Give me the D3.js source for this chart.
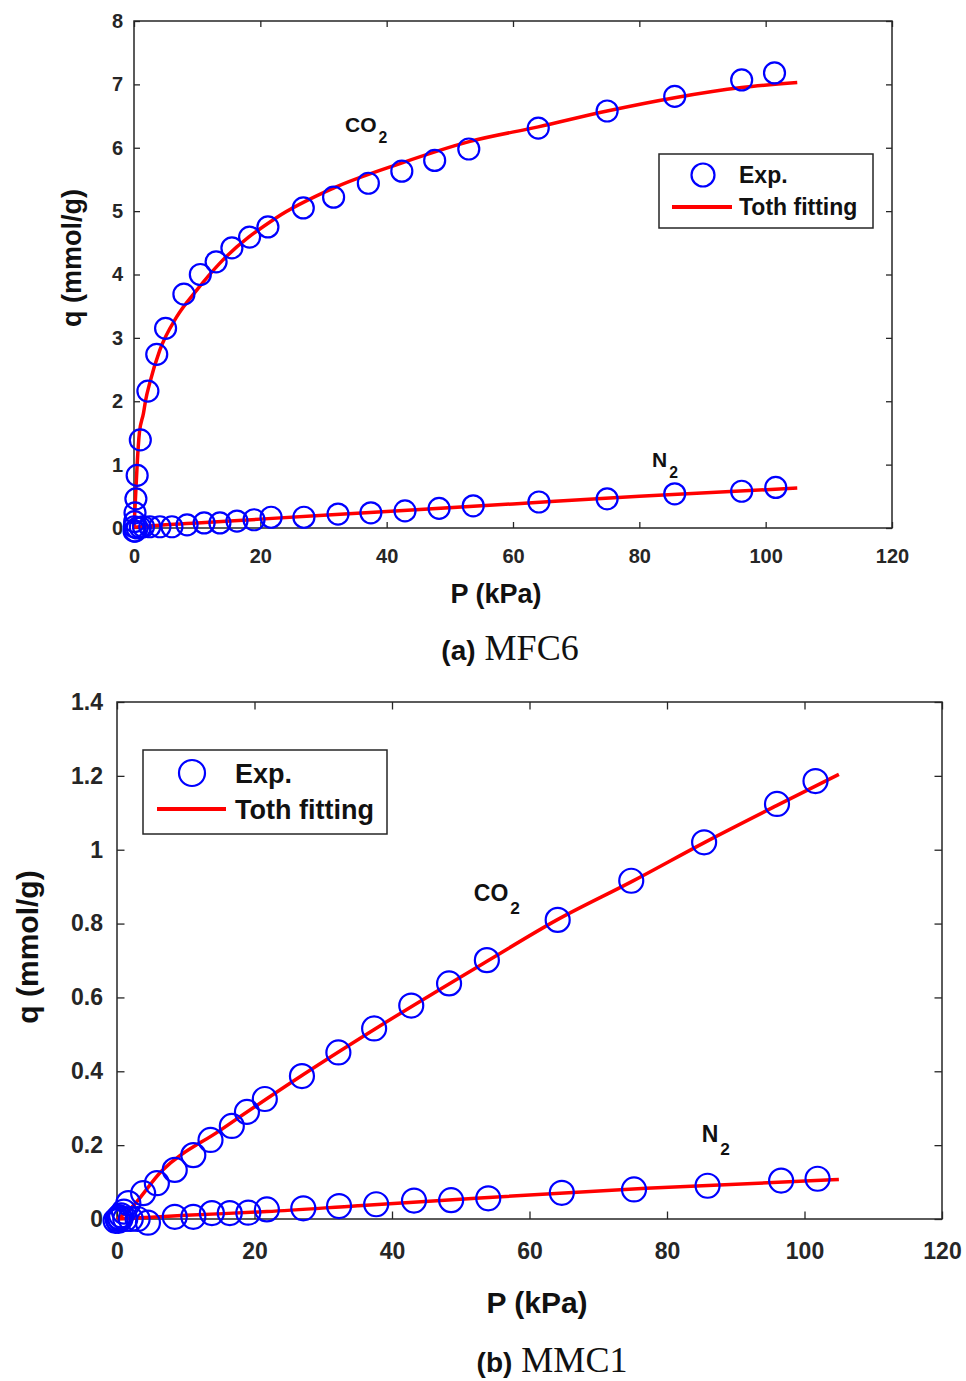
<!DOCTYPE html>
<html>
<head>
<meta charset="utf-8">
<script src="https://cdn.jsdelivr.net/npm/d3@7"></script>
<style>
  body { margin: 0; background: #fff; }
  svg { display: block; }
</style>
</head>
<body>
<div id="chart"></div>
<script>
// data: [P (kPa), q (mmol/g)]
const xTicks = [0, 20, 40, 60, 80, 100, 120];
const yTicksA = [0, 1, 2, 3, 4, 5, 6, 7, 8];
const yTicksB = [0, 0.2, 0.4, 0.6, 0.8, 1, 1.2, 1.4];

// (a) MFC6
const mfc6Co2Exp = [
  [0.02, -0.05], [0.05, 0.02], [0.1, 0.1], [0.16, 0.24], [0.3, 0.46], [0.5, 0.83],
  [1.0, 1.39], [2.2, 2.16], [3.6, 2.74], [5.0, 3.15], [7.9, 3.69], [10.5, 4.0],
  [13.0, 4.2], [15.5, 4.42], [18.3, 4.59], [21.2, 4.75], [26.8, 5.05], [31.6, 5.22],
  [37.1, 5.44], [42.4, 5.63], [47.6, 5.8], [53.0, 5.98], [64.0, 6.31], [74.9, 6.58],
  [85.6, 6.81], [96.2, 7.07], [101.4, 7.18]
];
const mfc6N2Exp = [
  [0.2, -0.05], [0.5, 0.0], [1.0, 0.01], [1.5, 0.02], [2.5, 0.02], [4.1, 0.02],
  [6.0, 0.02], [8.4, 0.05], [11.1, 0.08], [13.6, 0.08], [16.3, 0.11], [19.0, 0.13],
  [21.7, 0.17], [26.9, 0.17], [32.3, 0.22], [37.5, 0.24], [42.9, 0.27], [48.3, 0.31],
  [53.7, 0.35], [64.1, 0.41], [74.9, 0.46], [85.6, 0.54], [96.2, 0.58], [101.6, 0.64]
];
const mfc6Co2Fit = [
  [0, 0], [0.2, 0.4], [0.5, 1.0], [0.85, 1.5], [1.5, 1.81], [1.85, 2.02], [2.5, 2.29],
  [4.1, 2.81], [6.75, 3.33], [9.9, 3.75], [13.6, 4.18], [22.6, 4.9], [31.5, 5.36],
  [42.1, 5.75], [53.2, 6.1], [64, 6.33], [74.9, 6.58], [85.6, 6.79], [96.2, 6.95], [105, 7.03]
];
const mfc6N2Fit = [
  [0, 0.01], [5, 0.05], [10, 0.08], [20, 0.14], [40, 0.26], [60, 0.38], [80, 0.5], [105, 0.63]
];

// (b) MMC1
const mmc1Co2Exp = [
  [-0.2, -0.005], [0.1, 0.0], [0.3, 0.005], [0.6, 0.01], [1.0, 0.02], [1.65, 0.043],
  [3.8, 0.07], [5.8, 0.097], [8.4, 0.133], [11.1, 0.173], [13.6, 0.214], [16.7, 0.252],
  [18.9, 0.29], [21.5, 0.325], [26.9, 0.387], [32.2, 0.451], [37.4, 0.516], [42.8, 0.578],
  [48.3, 0.638], [53.8, 0.701], [64.1, 0.81], [74.8, 0.916], [85.4, 1.02], [96.0, 1.124],
  [101.6, 1.186]
];
const mmc1N2Exp = [
  [0.2, -0.005], [0.5, 0.0], [1.2, 0.0], [2.0, 0.0], [3.0, 0.0], [4.5, -0.01],
  [8.4, 0.006], [11.1, 0.006], [13.8, 0.016], [16.4, 0.016], [19.1, 0.017], [21.8, 0.026],
  [27.1, 0.029], [32.3, 0.035], [37.7, 0.04], [43.2, 0.05], [48.6, 0.051], [54.0, 0.056],
  [64.7, 0.071], [75.2, 0.08], [85.9, 0.09], [96.6, 0.104], [101.9, 0.109]
];
const mmc1Co2Fit = [
  [0, 0], [1.5, 0.02], [6.5, 0.13], [15, 0.24], [27, 0.39], [38, 0.52], [54, 0.70],
  [64, 0.81], [75, 0.915], [85.5, 1.02], [96, 1.12], [105, 1.204]
];
const mmc1N2Fit = [
  [0, 0], [5, 0.005], [10, 0.01], [21.8, 0.02], [35, 0.036], [52.8, 0.057], [77, 0.083], [105, 0.107]
];

const legendLabels = ["Exp.", "Toth fitting"];

// config
const width = 966;
const height = 1381;
const axisColor = "#262626";
const sans = "'Liberation Sans', Arial, sans-serif";
const serif = "'Liberation Serif', 'Times New Roman', serif";

const svg = d3.select("#chart")
  .append("svg")
  .attr("width", width)
  .attr("height", height)
  .style("background-color", "white");

const drawPanel = (p) => {
  const x = d3.scaleLinear().domain([0, 120]).range([p.left, p.right]);
  const y = d3.scaleLinear().domain(p.yDomain).range([p.bottom, p.top]);
  const g = svg.append("g");

  // ticks inward on all four sides, labels on bottom/left only
  const axB = g.append("g").attr("transform", `translate(0,${p.bottom})`)
    .call(d3.axisBottom(x).tickValues(xTicks).tickSize(-p.tick).tickPadding(p.xPad));
  const axL = g.append("g").attr("transform", `translate(${p.left},0)`)
    .call(d3.axisLeft(y).tickValues(p.yTicks).tickSize(-p.tick).tickPadding(p.yPad)
      .tickFormat(d3.format("~g")));
  g.append("g").attr("transform", `translate(0,${p.top})`)
    .call(d3.axisTop(x).tickValues(xTicks).tickSize(-p.tick).tickFormat(""));
  g.append("g").attr("transform", `translate(${p.right},0)`)
    .call(d3.axisRight(y).tickValues(p.yTicks).tickSize(-p.tick).tickFormat(""));
  g.selectAll(".domain").remove();
  g.selectAll(".tick line").attr("stroke", axisColor).attr("stroke-width", 1.3);
  [axB, axL].forEach(a => a.selectAll("text")
    .attr("fill", axisColor)
    .style("font-family", sans)
    .style("font-weight", "bold")
    .style("font-size", p.tickFont + "px"));

  g.append("rect")
    .attr("x", p.left).attr("y", p.top)
    .attr("width", p.right - p.left).attr("height", p.bottom - p.top)
    .attr("fill", "none").attr("stroke", axisColor).attr("stroke-width", 1.5);

  // fitted curves
  const line = d3.line().x(d => x(d[0])).y(d => y(d[1])).curve(d3.curveMonotoneX);
  [p.co2Fit, p.n2Fit].forEach(fit => {
    g.append("path").datum(fit)
      .attr("d", line)
      .attr("fill", "none")
      .attr("stroke", "#ff0000")
      .attr("stroke-width", 3.5)
      .attr("stroke-linejoin", "round");
  });

  // experimental points
  g.append("g").selectAll("circle")
    .data(p.co2Exp.concat(p.n2Exp))
    .enter().append("circle")
    .attr("cx", d => x(d[0]))
    .attr("cy", d => y(d[1]))
    .attr("r", p.r)
    .attr("fill", "none")
    .attr("stroke", "#0000ff")
    .attr("stroke-width", 2.2);

  // gas labels
  p.gasLabels.forEach(l => {
    const t = g.append("text")
      .attr("x", x(l.at[0])).attr("y", y(l.at[1]))
      .attr("fill", "#111")
      .style("font-family", sans).style("font-weight", "bold")
      .style("font-size", p.gasFont + "px");
    t.append("tspan").text(l.name);
    t.append("tspan").text("2")
      .attr("dy", p.subDy)
      .attr("dx", 2)
      .style("font-size", (p.gasFont * 0.75) + "px");
  });

  // axis titles
  g.append("text")
    .attr("x", p.xLabel[0]).attr("y", p.xLabel[1])
    .attr("text-anchor", "middle")
    .attr("fill", "#111")
    .style("font-family", sans).style("font-weight", "bold")
    .style("font-size", p.labelFont + "px")
    .text("P (kPa)");
  g.append("text")
    .attr("transform", `translate(${p.yLabel[0]},${p.yLabel[1]}) rotate(-90)`)
    .attr("text-anchor", "middle")
    .attr("fill", "#111")
    .style("font-family", sans).style("font-weight", "bold")
    .style("font-size", p.labelFont + "px")
    .text("q (mmol/g)");

  // legend
  const lg = p.legend;
  g.append("rect")
    .attr("x", lg.x).attr("y", lg.y).attr("width", lg.w).attr("height", lg.h)
    .attr("fill", "white").attr("stroke", axisColor).attr("stroke-width", 1.5);
  g.append("circle")
    .attr("cx", lg.symX).attr("cy", lg.row1)
    .attr("r", p.r + 1)
    .attr("fill", "none").attr("stroke", "#0000ff").attr("stroke-width", 2.2);
  g.append("line")
    .attr("x1", lg.lineX1).attr("x2", lg.lineX2)
    .attr("y1", lg.row2).attr("y2", lg.row2)
    .attr("stroke", "#ff0000").attr("stroke-width", 4);
  legendLabels.forEach((name, i) => {
    g.append("text")
      .attr("x", lg.textX)
      .attr("y", (i === 0 ? lg.row1 : lg.row2) + lg.font * 0.36)
      .attr("fill", "#111")
      .style("font-family", sans).style("font-weight", "bold")
      .style("font-size", lg.font + "px")
      .text(name);
  });

  // caption
  const cap = g.append("text")
    .attr("x", p.caption[0]).attr("y", p.caption[1])
    .attr("text-anchor", "middle")
    .attr("fill", "#111");
  cap.append("tspan").text(p.captionTag)
    .style("font-family", sans).style("font-weight", "bold").style("font-size", "28px");
  cap.append("tspan").text(" " + p.captionName)
    .style("font-family", serif).style("font-size", "36px");
};

drawPanel({
  left: 134, right: 892, top: 21, bottom: 528,
  yDomain: [0, 8], yTicks: yTicksA,
  tick: 6, xPad: 21, yPad: 11, tickFont: 20, r: 10.5,
  co2Exp: mfc6Co2Exp, n2Exp: mfc6N2Exp, co2Fit: mfc6Co2Fit, n2Fit: mfc6N2Fit,
  gasFont: 21, subDy: 11,
  gasLabels: [{ name: "CO", at: [33.4, 6.25] }, { name: "N", at: [82, 0.96] }],
  labelFont: 27, xLabel: [496, 603], yLabel: [81, 258],
  legend: { x: 659, y: 154, w: 214, h: 74, symX: 703, row1: 175, row2: 207,
            lineX1: 672, lineX2: 732, textX: 739, font: 23 },
  caption: [510, 660], captionTag: "(a)", captionName: "MFC6"
});

drawPanel({
  left: 117, right: 942, top: 702, bottom: 1219,
  yDomain: [0, 1.4], yTicks: yTicksB,
  tick: 7.5, xPad: 24, yPad: 14, tickFont: 23, r: 12,
  co2Exp: mmc1Co2Exp, n2Exp: mmc1N2Exp, co2Fit: mmc1Co2Fit, n2Fit: mmc1N2Fit,
  gasFont: 23, subDy: 13,
  gasLabels: [{ name: "CO", at: [51.9, 0.862] }, { name: "N", at: [85.05, 0.209] }],
  labelFont: 30, xLabel: [537, 1313], yLabel: [38, 947],
  legend: { x: 143, y: 750, w: 244, h: 84, symX: 192, row1: 773, row2: 809,
            lineX1: 157, lineX2: 226, textX: 235, font: 27 },
  caption: [552, 1372], captionTag: "(b)", captionName: "MMC1"
});
</script>
</body>
</html>
